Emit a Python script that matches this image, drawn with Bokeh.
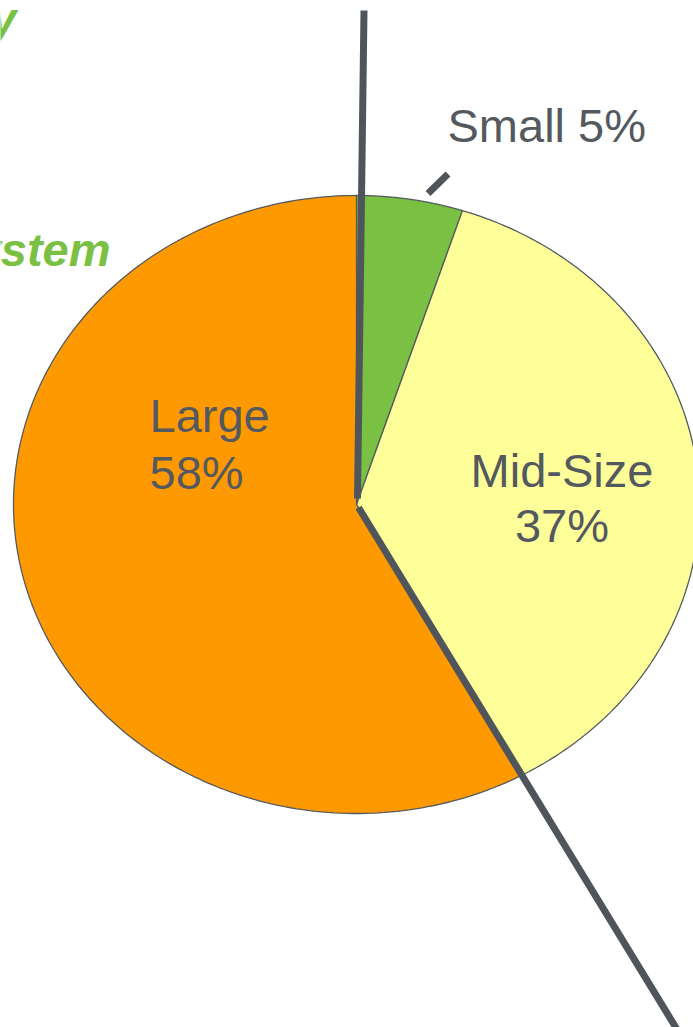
import numpy as np
from bokeh.plotting import figure
from bokeh.models import Range1d
from bokeh.core.properties import value
from bokeh.embed import file_html
from bokeh.resources import INLINE

# ---- data ----
categories = ["Small", "Mid-Size", "Large"]
shares = [5, 37, 58]
colors = ["#7AC143", "#FFFF99", "#FF9900"]
label_lines = [["Small 5%"], ["Mid-Size", "37%"], ["Large", "58%"]]
side_titles = ["Industry", "Ecosystem"]

# ---- layout constants (pixels) ----
W, H = 693, 1027
CX, CY, RX, RY = 356.0, 504.0, 343.0, 309.0
TXT = "#545960"
LINE = "#50555C"
FONT = value("Liberation Sans")
DY = -18  # baseline correction

p = figure(width=W, height=H, x_range=Range1d(0, W), y_range=Range1d(H, 0),
           toolbar_location=None, output_backend="svg", min_border=0)
p.axis.visible = False
p.grid.visible = False
p.outline_line_color = None
p.background_fill_color = "white"
p.border_fill_color = "white"

# ---- pie slices (elliptical, clockwise from 12 o'clock) ----
fr = np.array(shares, dtype=float) / sum(shares)
cum = np.concatenate([[0.0], np.cumsum(fr)])
xs, ys = [], []
for i in range(len(shares)):
    a0 = np.pi / 2 - 2 * np.pi * cum[i]
    a1 = np.pi / 2 - 2 * np.pi * cum[i + 1]
    t = np.linspace(a0, a1, 200)
    xs.append([CX] + list(CX + RX * np.cos(t)) + [CX])
    ys.append([CY] + list(CY - RY * np.sin(t)) + [CY])
p.patches(xs, ys, fill_color=colors, line_color="#555A60", line_width=1.3)

# ---- decorative dark lines ----
b = np.pi / 2 - 2 * np.pi * cum[2]  # Mid-Size / Large boundary
dx, dy = RX * np.cos(b), -RY * np.sin(b)
sx, sy = CX + 2, CY + 3
k = (1070 - sy) / dy
p.segment(x0=[363.5, sx], y0=[10, sy], x1=[357.0, sx + k * dx], y1=[498, 1070],
          line_color=LINE, line_width=7)
# leader for Small
p.segment(x0=[427.5], y0=[193], x1=[447.5], y1=[173.5], line_color=LINE, line_width=7)

# ---- labels ----
p.text(x=[447], y=[143 + DY], text=[label_lines[0][0]], text_font=FONT, text_font_size="47px",
       text_color=TXT, text_align="left", text_baseline="alphabetic")
p.text(x=[561.5, 561.5], y=[488 + DY, 543 + DY], text=label_lines[1], text_font=FONT,
       text_font_size="47px", text_color=TXT, text_align="center", text_baseline="alphabetic")
p.text(x=[149, 149], y=[433 + DY, 490 + DY], text=label_lines[2], text_font=FONT,
       text_font_size="47px", text_color=TXT, text_align="left", text_baseline="alphabetic")

# ---- partially visible green titles at left edge (clipped as in the original) ----
p.text(x=[16, 110], y=[36 + DY, 267 + DY], text=side_titles, text_font=FONT,
       text_font_size="47px", text_font_style="bold italic", text_color="#7AC143",
       text_align="right", text_baseline="alphabetic")

open("out.html", "w").write(file_html(p, INLINE))
